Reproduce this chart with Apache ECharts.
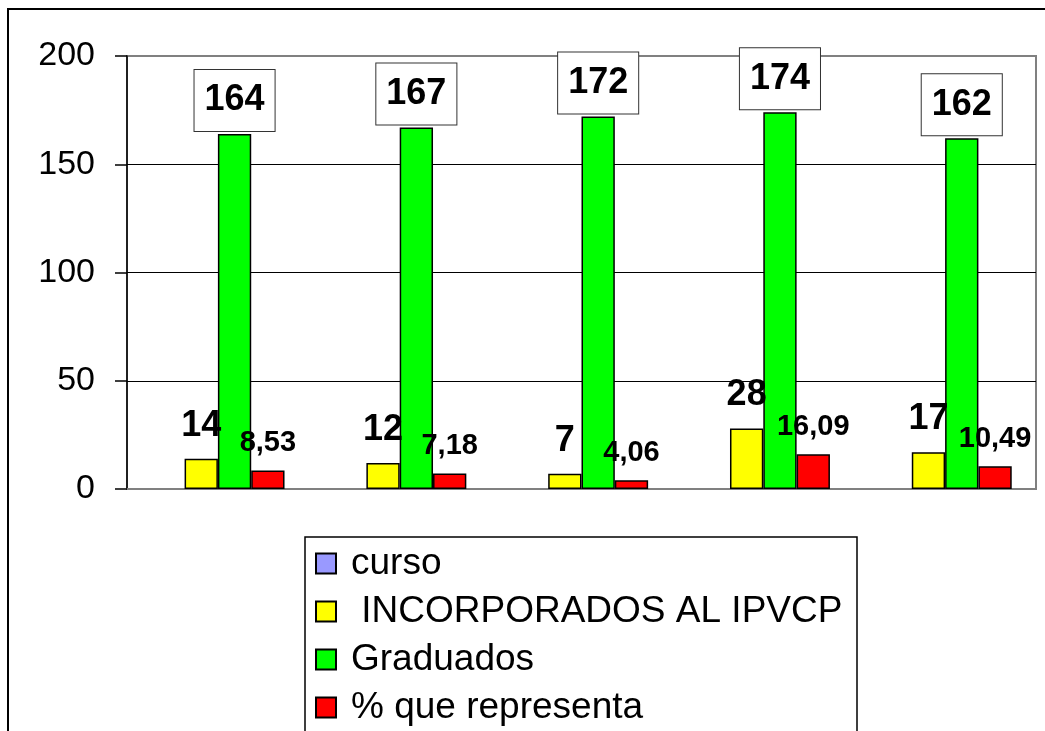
<!DOCTYPE html>
<html>
<head>
<meta charset="utf-8">
<script src="https://cdn.jsdelivr.net/npm/echarts@6/dist/echarts.min.js"></script>
<style>
html,body{margin:0;padding:0;background:#fff;}
#chart{width:1045px;height:731px;}
</style>
</head>
<body>
<div id="chart"></div>
<script>
var categories = ['1', '2', '3', '4', '5'];
var curso = ['-', '-', '-', '-', '-'];
var incorporados = [14, 12, 7, 28, 17];
var graduados = [164, 167, 172, 174, 162];
var porcentaje = [8.53, 7.18, 4.06, 16.09, 10.49];
var yTicks = [0, 50, 100, 150, 200];

var FONT = '"Liberation Sans", Arial, sans-serif';
var chart = echarts.init(document.getElementById('chart'));

function fmtComma(p) {
  return p.value.toFixed(2).replace('.', ',');
}

chart.setOption({
  animation: false,
  backgroundColor: '#ffffff',
  textStyle: { fontFamily: FONT },
  graphic: [
    { type: 'rect', z: -10, shape: { x: 8, y: 9, width: 1100, height: 800 },
      style: { fill: 'none', stroke: '#000', lineWidth: 2 } },
    { type: 'rect', z: 1, shape: { x: 305, y: 537, width: 552, height: 300 },
      style: { fill: '#fff', stroke: '#000', lineWidth: 1.5 } }
  ],
  grid: {
    left: 127, top: 56, right: 9, bottom: 242,
    show: true, borderColor: '#808080', borderWidth: 2, backgroundColor: 'transparent'
  },
  legend: {
    orient: 'vertical', left: 315, top: 545, padding: 0, z: 5,
    icon: 'rect',
    itemWidth: 20, itemHeight: 20, itemGap: 11,
    textStyle: { fontSize: 37, lineHeight: 36, color: '#000', fontFamily: FONT, padding: [0, 0, 0, 10] },
    data: ['curso', ' INCORPORADOS AL IPVCP', 'Graduados', '% que representa']
  },
  xAxis: {
    type: 'category', data: categories,
    axisLabel: { show: false }, axisTick: { show: false },
    axisLine: { lineStyle: { color: '#808080', width: 2 } }
  },
  yAxis: {
    type: 'value', min: 0, max: 200, interval: 50,
    axisLine: { show: true, lineStyle: { color: '#000', width: 1.5 } },
    axisTick: { show: true, length: 12, lineStyle: { color: '#000', width: 1.5 } },
    axisLabel: { fontSize: 34, color: '#000', margin: 32, fontFamily: FONT,
      formatter: function (v) { return yTicks.indexOf(v) >= 0 ? String(v) : ''; } },
    splitLine: { show: true, lineStyle: { color: ['#808080', '#000', '#000', '#000', '#808080'], width: 1.2 } }
  },
  series: [
    { name: 'curso', type: 'bar', data: curso, barGap: '0%', barCategoryGap: '26.7%',
      itemStyle: { color: '#9999FF', borderColor: '#000', borderWidth: 1.5 } },
    { name: ' INCORPORADOS AL IPVCP', type: 'bar', data: incorporados, barGap: '0%', barCategoryGap: '26.7%',
      itemStyle: { color: '#FFFF00', borderColor: '#000', borderWidth: 1.5 },
      label: { show: true, position: 'top', distance: 15, fontSize: 36, fontWeight: 'bold', color: '#000', fontFamily: FONT } },
    { name: 'Graduados', type: 'bar', data: graduados, barGap: '0%', barCategoryGap: '26.7%',
      itemStyle: { color: '#00FF00', borderColor: '#000', borderWidth: 1.5 },
      label: { show: true, position: 'top', distance: 3, fontSize: 36, lineHeight: 35, fontWeight: 'bold', color: '#000', fontFamily: FONT,
        backgroundColor: '#fff', borderColor: '#333', borderWidth: 1, padding: [13, 10, 13, 10] } },
    { name: '% que representa', type: 'bar', data: porcentaje, barGap: '0%', barCategoryGap: '26.7%',
      itemStyle: { color: '#FF0000', borderColor: '#000', borderWidth: 1.5 },
      label: { show: true, position: 'top', distance: 13, fontSize: 29, fontWeight: 'bold', color: '#000', fontFamily: FONT,
        formatter: fmtComma } }
  ]
});
</script>
</body>
</html>
